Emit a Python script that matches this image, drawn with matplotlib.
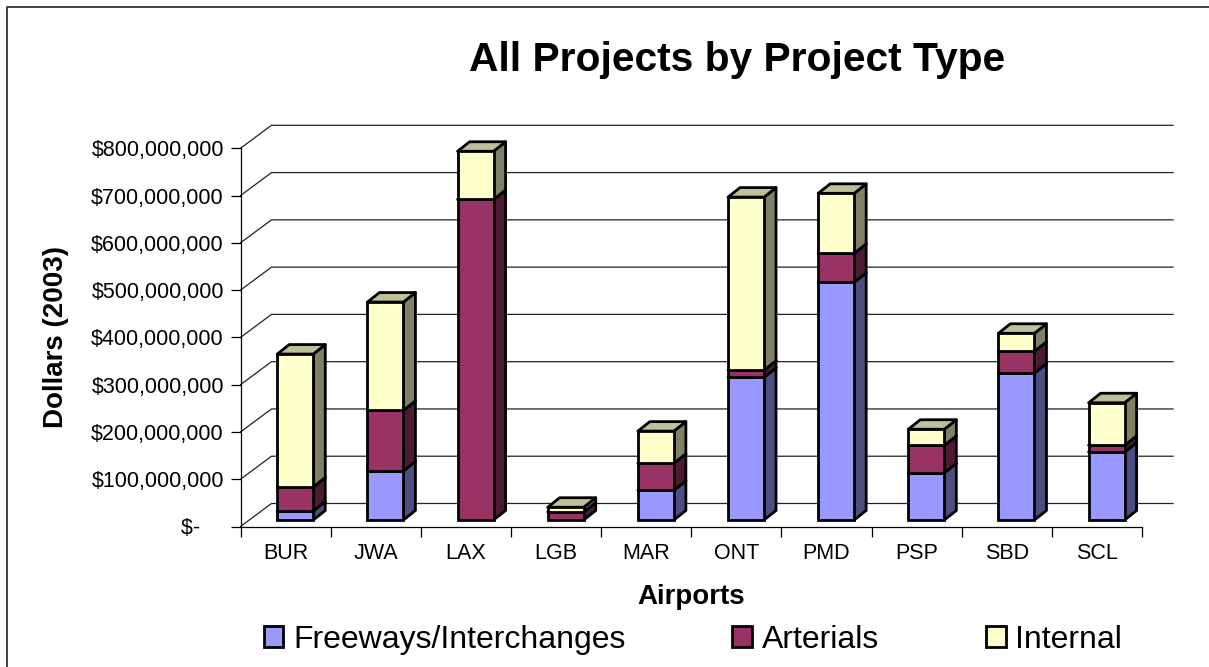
import matplotlib
matplotlib.use("Agg")
import numpy as np
import matplotlib.pyplot as plt
from matplotlib.patches import Patch, Polygon

plt.rcParams['font.family'] = ['Liberation Sans', 'DejaVu Sans']

# valores (milhoes de dolares)
airports = ['BUR', 'JWA', 'LAX', 'LGB', 'MAR', 'ONT', 'PMD', 'PSP', 'SBD', 'SCL']
freeways = [19, 104, 0, 0, 63, 302, 503, 100, 311, 144]
arterials = [51, 128, 678, 17, 57, 15, 61, 58, 46, 14]
internal = [281, 229, 102, 10, 68, 366, 127, 34, 38, 90]
y_ticks = [0, 100, 200, 300, 400, 500, 600, 700, 800]
y_labels = ['$-    ', '$100,000,000', '$200,000,000', '$300,000,000', '$400,000,000',
            '$500,000,000', '$600,000,000', '$700,000,000', '$800,000,000']

series = [('Freeways/Interchanges', freeways, '#9999FF', '#4D4D80', '#7373BF'),
          ('Arterials', arterials, '#993366', '#4D1A33', '#732640'),
          ('Internal', internal, '#FFFFCC', '#808066', '#BFBF99')]

W, H = 1209, 667
fig = plt.figure(figsize=(W / 100, H / 100), dpi=100)

# moldura: so aparecem os lados esquerdo e de cima
fig.add_artist(plt.Line2D([6.7 / W, 6.7 / W, 1], [0, 1 - 6.7 / H, 1 - 6.7 / H],
                          color='#404040', lw=1.4, transform=fig.transFigure))

# eixo frontal em pixels
left, right, top, bottom = 240.5, 1142, 148.3, 526.5
ax = fig.add_axes([left / W, 1 - bottom / H, (right - left) / W, (bottom - top) / H])
ax.set_xlim(0, 10)
ax.set_ylim(0, 800)
px_x = 10 / (right - left)
px_y = 800 / (bottom - top)

# profundidade da parede de fundo
wall_dx, wall_dy = 31 * px_x, 23 * px_y
for v in y_ticks:
    ax.plot([0, wall_dx, 10 + wall_dx], [v, v + wall_dy, v + wall_dy], color='#222222', lw=0.9,
            clip_on=False, zorder=1)

# barras
bar_w = 36 * px_x
shift_x, shift_y = 9.7 * px_x, 6.5 * px_y
dx, dy = 12 * px_x, 9.5 * px_y
lw_bar = 2.0
x = np.arange(10) + 0.5 + shift_x
base = np.full(10, shift_y)
for name, vals, front, side, cap in series:
    vals = np.array(vals, dtype=float)
    for i in range(10):
        if vals[i] == 0:
            continue
        x0, x1 = x[i] - bar_w / 2, x[i] + bar_w / 2
        y0, y1 = base[i], base[i] + vals[i]
        ax.add_patch(Polygon([[x1, y0], [x1 + dx, y0 + dy], [x1 + dx, y1 + dy], [x1, y1]],
                             fc=side, ec='black', lw=lw_bar, joinstyle='round', zorder=3,
                             clip_on=False))
        ax.add_patch(Polygon([[x0, y1], [x0 + dx, y1 + dy], [x1 + dx, y1 + dy], [x1, y1]],
                             fc=cap, ec='black', lw=lw_bar, joinstyle='round', zorder=3,
                             clip_on=False))
    mask = vals > 0
    ax.bar(x[mask], vals[mask], bar_w, bottom=base[mask], color=front, edgecolor='black',
           linewidth=lw_bar, zorder=4, clip_on=False)
    base = base + vals

ax.spines['top'].set_visible(False)
ax.spines['right'].set_visible(False)
ax.spines['left'].set_linewidth(0.9)
ax.spines['bottom'].set_linewidth(0.9)
ax.set_yticks(y_ticks)
ax.set_yticklabels(y_labels)
ax.set_xticks(np.arange(11))
ax.set_xticklabels([])
ax.set_xticks(np.arange(10) + 0.5, minor=True)
ax.set_xticklabels(airports, minor=True)
ax.tick_params(axis='x', which='major', length=7, width=0.9, direction='out')
ax.tick_params(axis='x', which='minor', length=0, labelsize=15.5, pad=12)
ax.tick_params(axis='y', length=7, width=0.9, labelsize=15.5, pad=5)

ax.set_xlabel('Airports', fontsize=20, fontweight='bold', labelpad=14)
ax.set_ylabel('Dollars (2003)', fontsize=20, fontweight='bold', labelpad=16)
fig.text(737 / W, 1 - 60 / H, 'All Projects by Project Type', fontsize=29.3, fontweight='bold',
         ha='center', va='center')

handles = [Patch(fc=s[2], ec='black', lw=2.0, label=s[0]) for s in series]
fig.legend(handles=handles, ncols=3, loc='center', bbox_to_anchor=(693 / W, 1 - 640 / H), frameon=False,
           fontsize=23, handlelength=0.62, handleheight=0.62, handletextpad=0.3, columnspacing=3.35)

fig.savefig('out.png', dpi=100)
